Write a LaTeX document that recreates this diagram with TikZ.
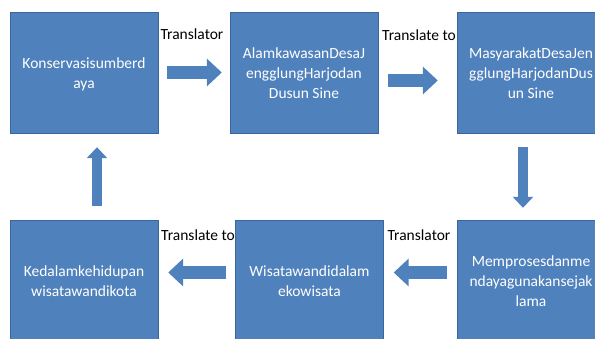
\documentclass[tikz,border=0pt]{standalone}
\usepackage{fontspec}
\setmainfont{Carlito}
\usetikzlibrary{positioning}
\usetikzlibrary{arrows.meta}
\definecolor{boxblue}{HTML}{4F81BD}
\definecolor{boxedge}{HTML}{3B6699}

\begin{document}
\begin{tikzpicture}[x=1pt, y=1pt,
	box/.style={draw=boxedge, fill=boxblue, minimum width=148pt, minimum height=121pt},
	txt/.style={text=white, anchor=base, inner sep=0pt, font=\fontsize{15.5}{20}\selectfont},
	harrow/.style={boxblue, line width=13pt, -{Triangle[width=27pt, length=15pt]}},
	varrow/.style={boxblue, line width=10pt, -{Triangle[width=20pt, length=11pt]}},
	lbl/.style={font=\fontsize{15.5}{20}\selectfont}]
	\useasboundingbox (0,0) rectangle (595,338);
	% top row
	\node[box] (kons) at (84,265.5) {};
	\node[txt] (kons1) at ([yshift=4pt]kons.center) {Konservasisumberd};
	\node[txt] (kons2) at ([yshift=-16pt]kons.center) {aya};
	\node[box] (alam) at (304,265.5) {};
	\node[txt] (alam1) at ([yshift=14pt]alam.center) {AlamkawasanDesaJ};
	\node[txt] (alam2) at ([yshift=-6pt]alam.center) {engglungHarjodan};
	\node[txt] (alam3) at ([yshift=-26pt]alam.center) {Dusun Sine};
	\node[box] (masy) at (531,265.5) {};
	\node[txt] (masy1) at ([yshift=14pt]masy.center) {MasyarakatDesaJen};
	\node[txt] (masy2) at ([yshift=-6pt]masy.center) {gglungHarjodanDus};
	\node[txt] (masy3) at ([yshift=-26pt]masy.center) {un Sine};
	% bottom row
	\node[box] (keda) at (84,57.5) {};
	\node[txt] (keda1) at ([yshift=4pt]keda.center) {Kedalamkehidupan};
	\node[txt] (keda2) at ([yshift=-16pt]keda.center) {wisatawandikota};
	\node[box] (wisa) at (309.5,57.5) {};
	\node[txt] (wisa1) at ([yshift=4pt]wisa.center) {Wisatawandidalam};
	\node[txt] (wisa2) at ([yshift=-16pt]wisa.center) {ekowisata};
	\node[box] (memp) at (531,57.5) {};
	\node[txt] (memp1) at ([yshift=14pt]memp.center) {Memprosesdanme};
	\node[txt] (memp2) at ([yshift=-6pt]memp.center) {ndayagunakansejak};
	\node[txt] (memp3) at ([yshift=-26pt]memp.center) {lama};
	% arrows
	\draw[harrow, shorten <=9pt, shorten >=8pt] (kons.east) -- (alam.west);
	\draw[harrow, shorten <=10pt, shorten >=19pt]
		([yshift=-8pt]alam.east) -- ([yshift=-8pt]masy.west);
	\draw[varrow, shorten <=14pt, shorten >=12pt]
		([xshift=-8pt]masy.south) -- ([xshift=-8pt]memp.north);
	\draw[harrow, shorten <=10pt, shorten >=10pt]
		([yshift=8pt]memp.west) -- ([yshift=8pt]wisa.east);
	\draw[harrow, shorten <=9pt, shorten >=10pt]
		([yshift=8pt]wisa.west) -- ([yshift=8pt]keda.east);
	\draw[varrow, shorten <=14pt, shorten >=14pt]
		([xshift=13pt]keda.north) -- ([xshift=13pt]kons.south);
	% labels
	\node[lbl] (trans1) at (192,304) {Translator};
	\node[lbl] (trans2) at (419,303) {Translate to};
	\node[lbl] (trans3) at (198,103) {Translate to};
	\node[lbl] (trans4) at (419,103) {Translator};
\end{tikzpicture}
\end{document}
